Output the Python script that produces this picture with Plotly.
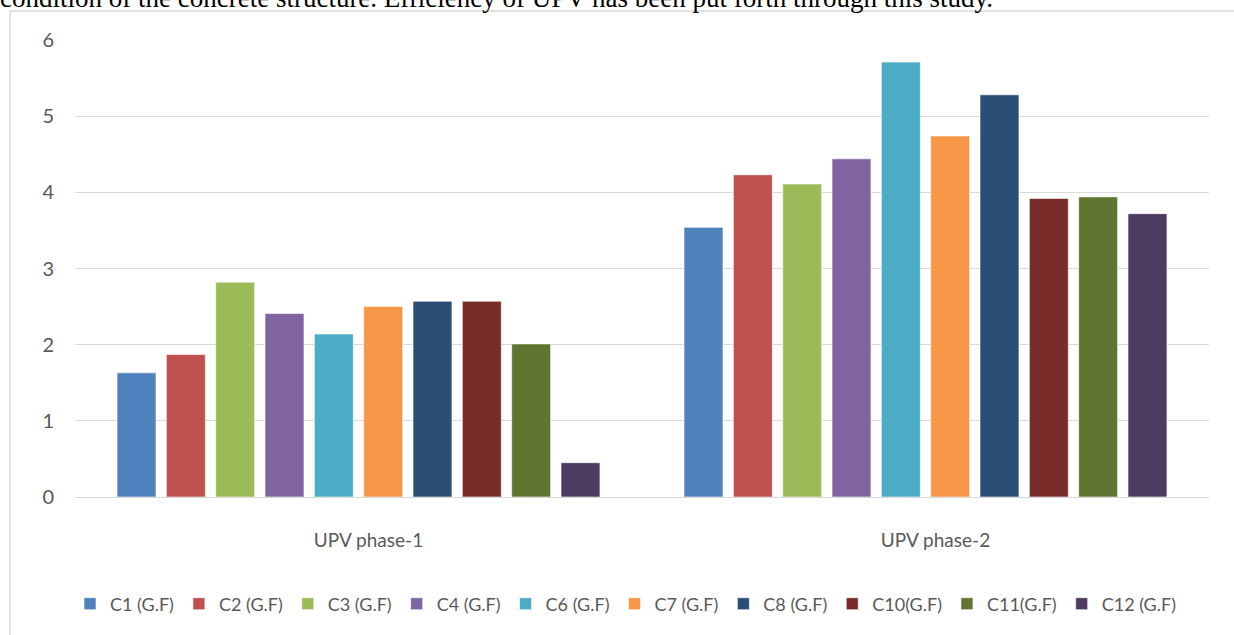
import plotly.graph_objects as go

categories = ["UPV phase-1", "UPV phase-2"]
series_names = ["C1 (G.F)", "C2 (G.F)", "C3 (G.F)", "C4 (G.F)", "C6 (G.F)",
                "C7 (G.F)", "C8 (G.F)", "C10(G.F)", "C11(G.F)", "C12 (G.F)"]
phase1 = [1.63, 1.87, 2.82, 2.41, 2.14, 2.50, 2.57, 2.57, 2.01, 0.45]
phase2 = [3.54, 4.23, 4.11, 4.44, 5.71, 4.74, 5.28, 3.92, 3.94, 3.72]
colors = ["#4F81BD", "#C0504D", "#9BBB59", "#8064A2", "#4BACC6",
          "#F79646", "#2C4D75", "#772C2A", "#5F7530", "#4D3B62"]
y_ticks = [0, 1, 2, 3, 4, 5, 6]
top_text = "condition of the concrete structure. Efficiency of UPV has been put forth through this study."

W, H = 1234, 635
L, R, T, B = 75, 25, 40, 138
pw, ph = W - L - R, H - T - B

def px(x):
    return (x - L) / pw

def py(y):
    return (H - B - y) / ph

fig = go.Figure()
for name, v1, v2, c in zip(series_names, phase1, phase2, colors):
    fig.add_trace(go.Bar(
        name=name, x=categories, y=[v1, v2],
        marker=dict(color=c, line=dict(color="rgba(255,255,255,0.6)", width=1)),
    ))

label_font = dict(family="Lato, Carlito, sans-serif", color="#595959")

fig.update_layout(
    width=W, height=H,
    margin=dict(l=L, r=R, t=T, b=B),
    paper_bgcolor="white", plot_bgcolor="white",
    barmode="group", bargap=0.13, bargroupgap=0.21,
    showlegend=True,
    legend=dict(orientation="h", x=px(625.5), xanchor="center", y=py(604), yanchor="middle",
                font=dict(size=18, **label_font), itemwidth=30,
                traceorder="normal"),
    xaxis=dict(showgrid=False, showline=False, zeroline=False,
               tickfont=dict(size=19, **label_font), ticklabelstandoff=30,
               ticklabelshift=10),
    yaxis=dict(range=[0, 6], tickvals=y_ticks, showgrid=True, gridcolor="#D9D9D9",
               gridwidth=1, zeroline=True, zerolinecolor="#D9D9D9", zerolinewidth=1,
               showline=False, tickfont=dict(size=20, **label_font),
               ticklabelstandoff=20),
    shapes=[
        dict(type="line", xref="paper", yref="paper", x0=px(10), x1=px(10),
             y0=py(11), y1=py(H + 5), line=dict(color="#D9D9D9", width=1.5)),
        dict(type="line", xref="paper", yref="paper", x0=px(10), x1=px(W + 5),
             y0=py(11), y1=py(11), line=dict(color="#D9D9D9", width=1.5)),
    ],
    annotations=[
        dict(text=top_text, xref="paper", yref="paper", x=px(-2), y=py(-2),
             xanchor="left", yanchor="middle", showarrow=False,
             font=dict(family="Liberation Serif, Times New Roman, serif", size=27, color="black")),
    ],
)

fig.write_html("out.html", config={"displayModeBar": False},
               post_script="document.body.style.margin='0';")
